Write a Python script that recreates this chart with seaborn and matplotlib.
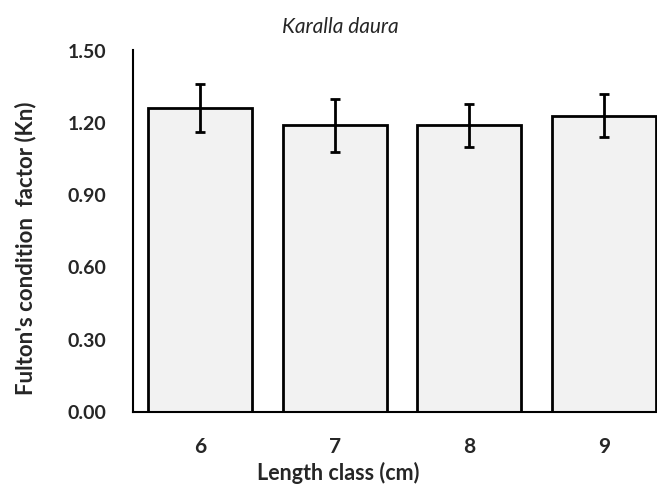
import matplotlib
matplotlib.use("Agg")
import matplotlib.pyplot as plt
import seaborn as sns
import pandas as pd

categories = ["6", "7", "8", "9"]
means = [1.26, 1.19, 1.19, 1.23]
errors = [0.10, 0.11, 0.09, 0.09]
yticks = [0.00, 0.30, 0.60, 0.90, 1.20, 1.50]

df = pd.DataFrame({"cls": categories, "kn": means})

sns.set_style("white")
plt.rcParams["font.family"] = ["Lato", "DejaVu Sans"]

fig = plt.figure(figsize=(6.57, 4.9), dpi=100)
ax = fig.add_axes([133/657, 1-412/490, 538/657, 361.5/490])
sns.barplot(data=df, x="cls", y="kn", order=categories, color="#f2f2f2",
            edgecolor="black", linewidth=2.0, width=0.77, errorbar=None,
            saturation=1, ax=ax)
ax.errorbar(x=list(range(len(categories))), y=means, yerr=errors, fmt="none",
            ecolor="black", elinewidth=2.0, capsize=3.5, capthick=2.0)

ax.set_xlim(-0.5, 3.5)
ax.set_ylim(0, 1.5)
ax.set_yticks(yticks)
ax.set_yticklabels([f"{v:.2f}" for v in yticks], fontsize=14, fontweight="bold")
ax.set_xticks(range(len(categories)))
ax.set_xticklabels(categories, fontsize=15, fontweight="bold")
ax.tick_params(axis="y", length=0, pad=19)
ax.tick_params(axis="x", length=0, pad=18)
for s in ["top", "right"]:
    ax.spines[s].set_visible(False)
for s in ["left", "bottom"]:
    ax.spines[s].set_color("black")
    ax.spines[s].set_linewidth(1.5)

ax.set_xlabel("")
ax.set_ylabel("")
fig.text(338/657, 1-473/490, "Length class (cm)", ha="center", va="center",
         fontsize=15.5, fontweight="bold")
fig.text(26/657, 1-248/490, "Fulton's condition  factor (Kn)", ha="center",
         va="center", rotation=90, fontsize=16, fontweight="bold")
fig.text(340/657, 1-27/490, "Karalla daura", ha="center", va="center",
         fontsize=15, style="italic")

fig.savefig("out.png", dpi=100)
